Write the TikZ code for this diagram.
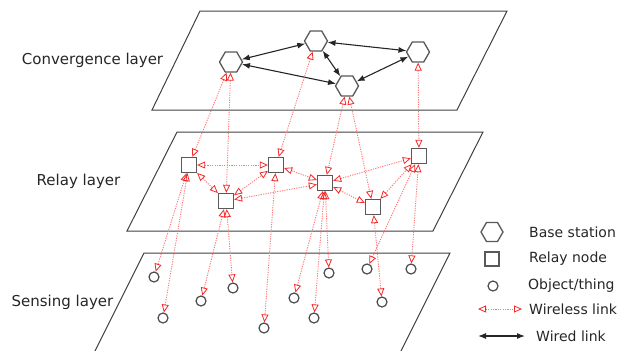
\documentclass[tikz,border=0pt]{standalone}
\usepackage{fontspec}
\setmainfont{DejaVu Sans}
\usetikzlibrary{shapes.geometric, arrows.meta}
\definecolor{wlred}{RGB}{255,120,120}
\definecolor{tipred}{RGB}{245,40,40}
\begin{document}
\begin{tikzpicture}[x=1pt,y=-1pt,
  plane/.style={draw=black!75, line width=1pt, line join=miter},
  bs/.style={regular polygon, regular polygon sides=6, minimum size=23pt, inner sep=0pt, draw=black!65, line width=1.3pt, fill=white},
  relay/.style={rectangle, minimum size=15pt, inner sep=0pt, draw=black!65, line width=1.3pt, fill=white},
  obj/.style={circle, minimum size=10pt, inner sep=0pt, draw=black!70, line width=1.2pt, fill=white},
  wtip/.tip={Triangle[open, length=8pt, width=7pt, line width=0.8pt, color=tipred]},
  btip/.tip={Latex[length=8pt, width=6pt]},
  wl/.style={draw=wlred, line width=0.9pt, dash pattern=on 1.2pt off 1.2pt, wtip-wtip},
  wd/.style={draw=black!85, line width=1.1pt, btip-btip},
  lbl/.style={font=\fontsize{15}{18}\selectfont, text=black!85},
  leg/.style={font=\fontsize{14}{17}\selectfont, text=black!85, anchor=west, inner sep=0pt},
]
\useasboundingbox (0,0) rectangle (619,351);
\clip (0,0) rectangle (619,351);
% planes
\draw[plane] (200,11) -- (507,11) -- (457,110) -- (152,110) -- cycle;
\draw[plane] (177,132) -- (483,132) -- (433,231) -- (127,231) -- cycle;
\draw[plane] (144,253) -- (450,253) -- (400,353) -- (94,353) -- cycle;
% labels
\node[lbl] (lc) at (92.5,60) {Convergence layer};
\node[lbl] (lr) at (78.5,181) {Relay layer};
\node[lbl] (ls) at (62.5,302) {Sensing layer};
% base stations
\node[bs] (H1) at (231,62) {};
\node[bs] (H2) at (316,41) {};
\node[bs] (H3) at (418,52) {};
\node[bs] (H4) at (347,86) {};
% relays
\node[relay] (R1) at (189,165) {};
\node[relay] (R2) at (276,165) {};
\node[relay] (R3) at (226,201) {};
\node[relay] (R4) at (325,183) {};
\node[relay] (R5) at (419,156) {};
\node[relay] (R6) at (373,207) {};
% objects
\node[obj] (S1) at (154,277) {};
\node[obj] (S2) at (163,318) {};
\node[obj] (S3) at (201,301) {};
\node[obj] (S4) at (233,288) {};
\node[obj] (S5) at (264,328) {};
\node[obj] (S6) at (294,298) {};
\node[obj] (S7) at (314,318) {};
\node[obj] (S8) at (329,273) {};
\node[obj] (S9) at (367,269) {};
\node[obj] (S10) at (382,302) {};
\node[obj] (S11) at (411,269) {};
% wired links
\draw[wd] (H1) -- (H2);
\draw[wd] (H1) -- (H4);
\draw[wd] (H2) -- (H3);
\draw[wd] (H2) -- (H4);
\draw[wd] (H3) -- (H4);
% wireless: base to relay
\draw[wl] (H1) -- (R1);
\draw[wl] (H1) -- (R3);
\draw[wl] (H2) -- (R2);
\draw[wl] (H4) -- (R4);
\draw[wl] (H4) -- (R6);
\draw[wl] (H3) -- (R5);
% wireless: relay to relay
\draw[wl] (R1) -- (R2);
\draw[wl] (R1) -- (R3);
\draw[wl] (R3) -- (R2);
\draw[wl] (R3) -- (R4);
\draw[wl] (R2) -- (R4);
\draw[wl] (R4) -- (R5);
\draw[wl] (R4) -- (R6);
\draw[wl] (R6) -- (R5);
% wireless: relay to object
\draw[wl] (R1) -- (S1);
\draw[wl] (R1) -- (S2);
\draw[wl] (R3) -- (S3);
\draw[wl] (R3) -- (S4);
\draw[wl] (R2) -- (S5);
\draw[wl] (R4) -- (S6);
\draw[wl] (R4) -- (S7);
\draw[wl] (R4) -- (S8);
\draw[wl] (R5) -- (S9);
\draw[wl] (R6) -- (S10);
\draw[wl] (R5) -- (S11);
% legend
\node[bs, minimum size=22pt] (LH) at (492,232) {};
\node[leg] (LHt) at (529,232) {Base station};
\node[relay, minimum size=14pt] (LR) at (492,259) {};
\node[leg] (LRt) at (529,259) {Relay node};
\node[obj] (LO) at (493,286) {};
\node[leg] (LOt) at (528,286) {Object/thing};
\coordinate (LW1) at (478,309);
\coordinate (LW2) at (522,309);
\draw[wl] (LW1) -- (LW2);
\node[leg] (LWt) at (529,309) {Wireless link};
\coordinate (LD1) at (478,336);
\coordinate (LD2) at (525,336);
\draw[wd] (LD1) -- (LD2);
\node[leg] (LDt) at (536,336) {Wired link};
\end{tikzpicture}
\end{document}
